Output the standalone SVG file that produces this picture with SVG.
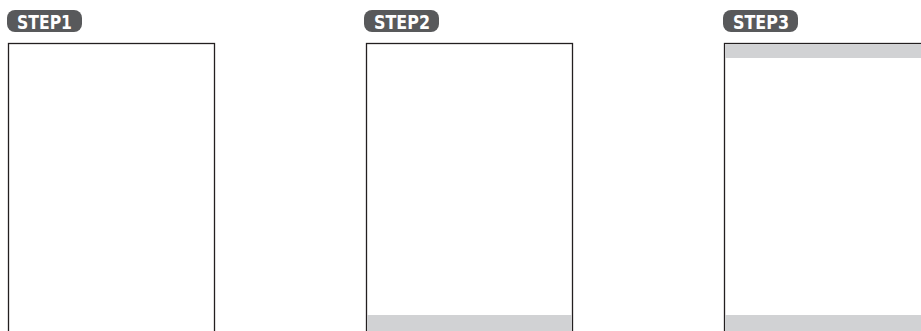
<svg xmlns="http://www.w3.org/2000/svg" width="921" height="331" viewBox="0 0 921 331">
<style>
.pill{fill:#58595b}
.lbl{fill:#fff;font-family:"DejaVu Sans Condensed","Liberation Sans",sans-serif;font-weight:bold;font-size:19px}
.box{fill:#fff;stroke:#231f20;stroke-width:1.3}
.band{fill:#d1d2d4}
</style>
<rect width="921" height="331" fill="#fff"/>
<g id="step1">
<rect class="pill" x="7" y="10" width="75" height="22" rx="8"/>
<text class="lbl" x="17" y="29" textLength="55" lengthAdjust="spacingAndGlyphs">STEP1</text>
<rect class="box" x="8.5" y="43.5" width="206" height="300"/>
</g>
<g id="step2">
<rect class="pill" x="364" y="10" width="75" height="22" rx="8"/>
<text class="lbl" x="374" y="29" textLength="56" lengthAdjust="spacingAndGlyphs">STEP2</text>
<rect class="box" x="366.5" y="43.5" width="206" height="300"/>
<rect class="band" x="367" y="315" width="205" height="16"/>
</g>
<g id="step3">
<rect class="pill" x="723" y="10" width="75" height="22" rx="8"/>
<text class="lbl" x="733" y="29" textLength="56" lengthAdjust="spacingAndGlyphs">STEP3</text>
<rect class="box" x="724.5" y="43.5" width="206" height="300"/>
<rect class="band" x="725" y="44" width="205" height="14"/>
<rect class="band" x="725" y="315" width="205" height="16"/>
</g>
</svg>
